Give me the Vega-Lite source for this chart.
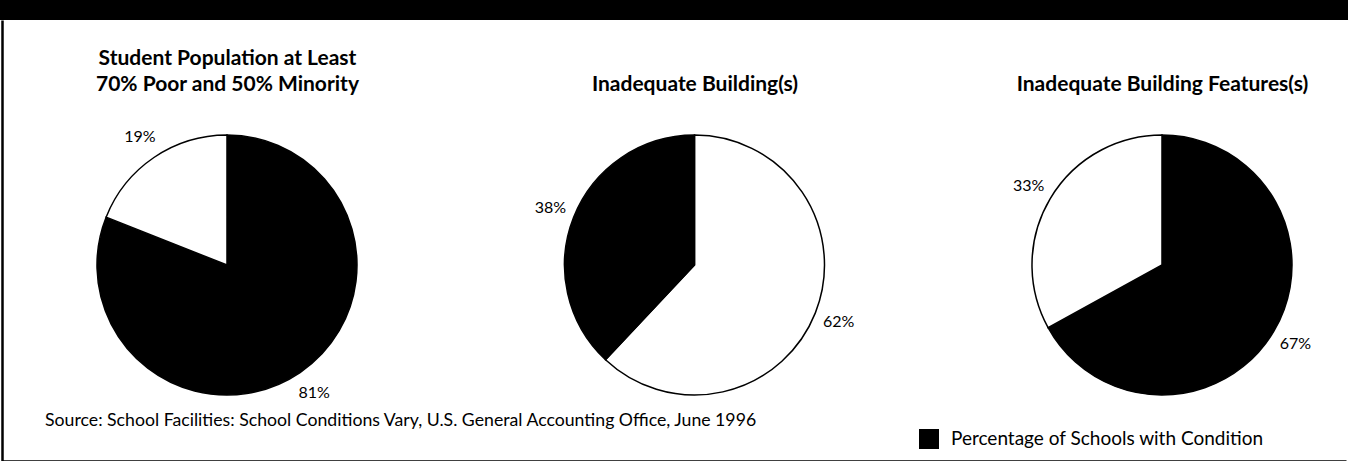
{
  "$schema": "https://vega.github.io/schema/vega-lite/v6.json",
  "padding": 0,
  "spacing": 0,
  "center": true,
  "background": "white",
  "config": {"view": {"stroke": null}, "font": "Lato"},
  "vconcat": [
    {
      "width": 1348,
      "height": 20,
      "data": {"values": [{"part": "header band"}]},
      "mark": {"type": "rect", "color": "black"},
      "encoding": {}
    },
    {
      "width": 1344,
      "height": 441,
      "title": {
        "text": "Source: School Facilities: School Conditions Vary, U.S. General Accounting Office, June 1996",
        "orient": "bottom",
        "anchor": "start",
        "frame": "group",
        "offset": -35,
        "dx": 43,
        "baseline": "alphabetic",
        "font": "Lato",
        "fontSize": 17.7,
        "fontWeight": "normal",
        "color": "black"
      },
      "data": {
        "values": [
          {"chart": "Student Population at Least|70% Poor and 50% Minority", "cat": "Percentage of Schools with Condition", "pct": 81, "k": 1, "label": "81%"},
          {"chart": "Student Population at Least|70% Poor and 50% Minority", "cat": "Other Schools", "pct": 19, "k": 2, "label": "19%"},
          {"chart": "|Inadequate Building(s)", "cat": "Other Schools", "pct": 62, "k": 1, "label": "62%"},
          {"chart": "|Inadequate Building(s)", "cat": "Percentage of Schools with Condition", "pct": 38, "k": 2, "label": "38%"},
          {"chart": "|Inadequate Building Features(s)", "cat": "Percentage of Schools with Condition", "pct": 67, "k": 1, "label": "67%"},
          {"chart": "|Inadequate Building Features(s)", "cat": "Other Schools", "pct": 33, "k": 2, "label": "33%"}
        ]
      },
      "resolve": {"axis": {"x": "independent"}},
      "encoding": {
        "y": {
          "datum": "pie row",
          "type": "nominal",
          "scale": {"type": "point", "padding": 0, "align": 0.5556},
          "axis": {"orient": "left", "domain": true, "domainColor": "black", "domainWidth": 2.5, "labels": false, "ticks": false, "grid": false, "title": null}
        },
        "theta": {"field": "pct", "type": "quantitative", "stack": true},
        "order": {"field": "k", "type": "quantitative"},
        "color": {
          "field": "cat",
          "type": "nominal",
          "scale": {"domain": ["Percentage of Schools with Condition", "Other Schools"], "range": ["black", "white"]},
          "legend": {
            "orient": "none",
            "legendX": 919,
            "legendY": 429,
            "values": ["Percentage of Schools with Condition"],
            "title": null,
            "symbolType": "square",
            "symbolSize": 400,
            "symbolStrokeWidth": 0,
            "labelFont": "Lato",
            "labelFontSize": 19,
            "labelColor": "black",
            "labelOffset": 12,
            "labelLimit": 0
          }
        }
      },
      "layer": [
        {
          "transform": [{"filter": {"field": "chart", "equal": "Student Population at Least|70% Poor and 50% Minority"}}],
          "encoding": {
            "x": {
              "field": "chart",
              "type": "nominal",
              "scale": {
                "type": "point",
                "domain": ["Student Population at Least|70% Poor and 50% Minority", "|Inadequate Building(s)", "|Inadequate Building Features(s)"],
                "padding": 0.43743,
                "align": 0.5501
              },
              "axis": {
                "orient": "top",
                "offset": -48,
                "title": null,
                "domain": false,
                "ticks": false,
                "tickSize": 0,
                "grid": false,
                "labelPadding": 0,
                "labelAngle": 0,
                "labelAlign": "center",
                "labelBaseline": "bottom",
                "labelExpr": "split(datum.label, '|')",
                "labelLineHeight": 26,
                "labelFont": "Lato",
                "labelFontSize": 21,
                "labelFontWeight": "bold",
                "labelColor": "black",
                "labelLimit": 0,
                "labelOverlap": false,
                "labelFlush": false
              }
            }
          },
          "layer": [
            {"mark": {"type": "arc", "outerRadius": 130, "stroke": "black", "strokeWidth": 1.5}},
            {"mark": {"type": "text", "radius": 155, "font": "Lato", "fontSize": 16, "align": "center", "baseline": "middle"}, "encoding": {"text": {"field": "label"}, "color": {"value": "black"}}}
          ]
        },
        {
          "transform": [{"filter": {"field": "chart", "equal": "|Inadequate Building(s)"}}],
          "encoding": {
            "x": {
              "field": "chart",
              "type": "nominal",
              "scale": {
                "type": "point",
                "domain": ["Student Population at Least|70% Poor and 50% Minority", "|Inadequate Building(s)", "|Inadequate Building Features(s)"],
                "padding": 0.43743,
                "align": 0.5501
              },
              "axis": {"orient": "bottom", "domain": true, "domainColor": "black", "domainWidth": 2.5, "labels": false, "ticks": false, "grid": false, "title": null}
            }
          },
          "layer": [
            {"mark": {"type": "arc", "outerRadius": 130, "stroke": "black", "strokeWidth": 1.5}},
            {"mark": {"type": "text", "radius": 155, "font": "Lato", "fontSize": 16, "align": "center", "baseline": "middle"}, "encoding": {"text": {"field": "label"}, "color": {"value": "black"}}}
          ]
        },
        {
          "transform": [{"filter": {"field": "chart", "equal": "|Inadequate Building Features(s)"}}],
          "encoding": {
            "x": {
              "field": "chart",
              "type": "nominal",
              "scale": {
                "type": "point",
                "domain": ["Student Population at Least|70% Poor and 50% Minority", "|Inadequate Building(s)", "|Inadequate Building Features(s)"],
                "padding": 0.43743,
                "align": 0.5501
              },
              "axis": null
            }
          },
          "layer": [
            {"mark": {"type": "arc", "outerRadius": 130, "stroke": "black", "strokeWidth": 1.5}},
            {"mark": {"type": "text", "radius": 155, "font": "Lato", "fontSize": 16, "align": "center", "baseline": "middle"}, "encoding": {"text": {"field": "label"}, "color": {"value": "black"}}}
          ]
        }
      ]
    }
  ]
}
